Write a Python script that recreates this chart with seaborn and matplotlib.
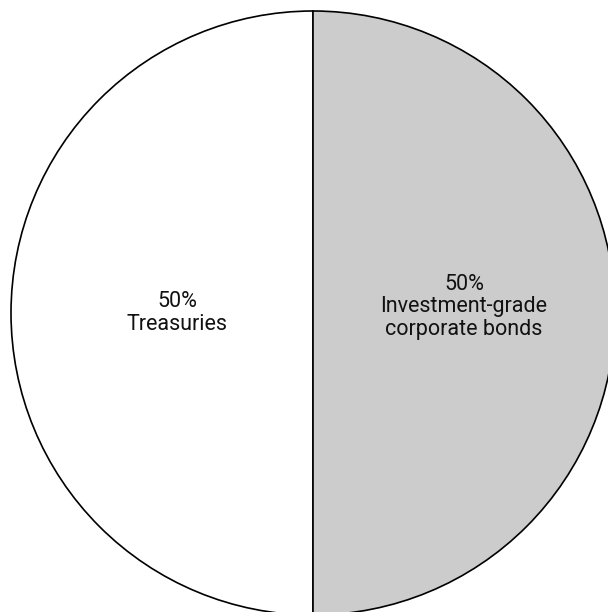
"""債券ポートフォリオの配分 — 円グラフ"""

import numpy as np
import matplotlib.pyplot as plt
import seaborn as sns

sns.set_theme(style="white")
plt.rcParams["font.family"] = ["Roboto", "DejaVu Sans"]

# データ
labels = ["Treasuries", "Investment-grade\ncorporate bonds"]
shares = [50, 50]
colors = ["#ffffff", "#cccccc"]

fig = plt.figure(figsize=(6.08, 6.12), dpi=100)
# 円の位置（右端・下端は少しはみ出す）
ax = fig.add_axes([11 / 608, -3 / 612, 604 / 608, 604 / 612])
wedges, _ = ax.pie(
    shares,
    colors=colors,
    startangle=90,
    counterclock=True,
    radius=1,
    wedgeprops={"edgecolor": "black", "linewidth": 1.2},
)
ax.set_xlim(-1, 1)
ax.set_ylim(-1, 1)
ax.set_aspect("equal")
ax.axis("off")

for w, share, label, r, dy in zip(wedges, shares, labels, [0.45, 0.50], [0.0, 0.02]):
    theta = np.deg2rad((w.theta1 + w.theta2) / 2)
    ax.text(
        r * np.cos(theta),
        r * np.sin(theta) + dy,
        f"{share}%\n{label}",
        ha="center",
        va="center",
        fontsize=15.5,
        linespacing=1.1,
        color="#111111",
    )

fig.savefig("out.png", dpi=100)
